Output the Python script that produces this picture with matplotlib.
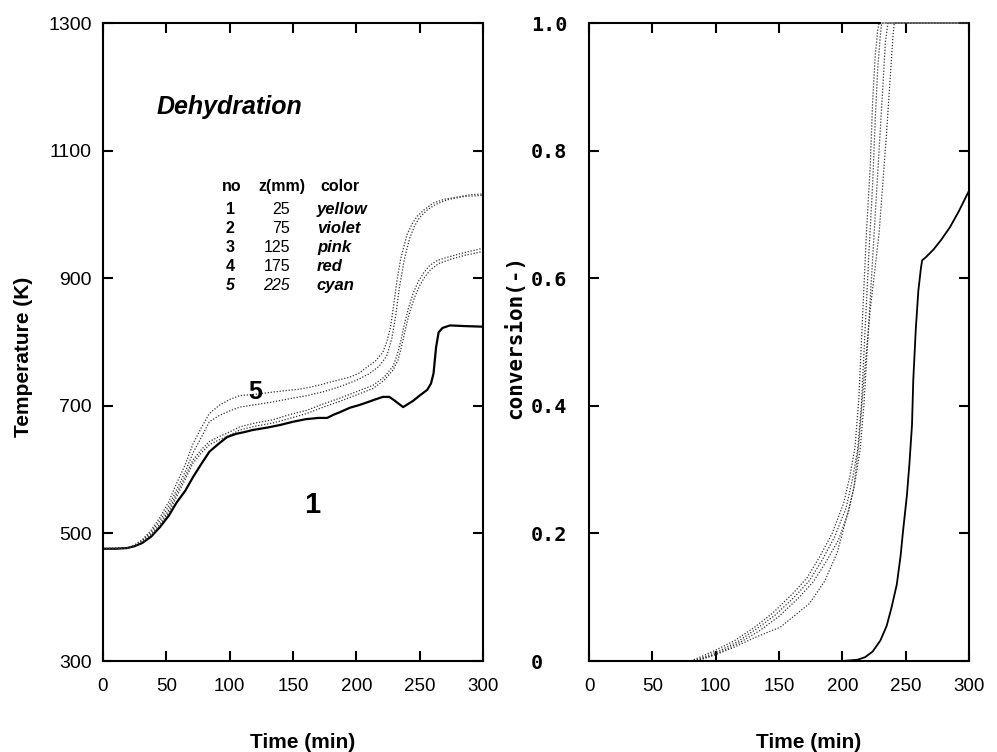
import matplotlib
matplotlib.use('Agg')
import matplotlib.pyplot as plt

plt.rcParams['font.family'] = ['Liberation Sans', 'DejaVu Sans']

# ---- temperature curves (left panel), one per thermocouple position ----
t1 = [0, 10, 19, 25, 31, 38, 45, 52, 58, 65, 71, 78, 84, 91, 98, 105, 112, 118, 130, 140,
      150, 160, 170, 177, 182, 187, 195, 202, 208, 215, 221, 226, 229, 233, 237, 241, 245,
      250, 256, 259, 261, 263, 265, 268, 274, 285, 300]
T1 = [476, 476, 477, 480, 485, 495, 510, 528, 548, 567, 588, 610, 628, 640, 651, 656, 659,
      662, 666, 670, 675, 679, 681, 681, 686, 690, 697, 701, 705, 710, 714, 714, 710, 704,
      698, 703, 708, 716, 725, 735, 751, 792, 815, 822, 826, 825, 824]

t2 = [0, 19, 25, 31, 38, 45, 52, 58, 65, 71, 78, 84, 92, 100, 108, 120, 134, 147, 161, 174,
      187, 200, 213, 222, 229, 233, 236, 239, 242, 246, 250, 254, 259, 265, 275, 286, 300]
T2 = [476, 477, 480, 486, 497, 512, 533, 557, 585, 610, 627, 639, 647, 654, 662, 668, 673,
      680, 688, 698, 707, 717, 727, 740, 756, 772, 795, 822, 846, 870, 888, 902, 914, 923,
      930, 936, 942]

t3 = [0, 19, 25, 31, 38, 45, 52, 58, 65, 71, 78, 84, 92, 100, 108, 120, 134, 147, 161, 174,
      187, 200, 213, 222, 229, 232, 235, 238, 241, 245, 249, 253, 258, 264, 274, 285, 300]
T3 = [476, 477, 481, 487, 499, 515, 537, 562, 590, 615, 632, 644, 652, 659, 667, 673, 678,
      686, 693, 703, 712, 722, 732, 745, 762, 778, 800, 828, 852, 877, 895, 908, 920, 928,
      934, 940, 947]

t4 = [0, 19, 25, 31, 38, 45, 52, 58, 65, 71, 78, 84, 92, 100, 108, 121, 134, 147, 161, 174,
      187, 200, 210, 218, 224, 228, 231, 234, 238, 242, 246, 250, 256, 263, 272, 285, 300]
T4 = [476, 477, 481, 489, 502, 520, 543, 568, 597, 626, 652, 675, 685, 692, 698, 702, 706,
      711, 716, 722, 730, 740, 750, 762, 778, 805, 840, 885, 930, 962, 982, 995, 1007, 1016,
      1023, 1028, 1030]

t5 = [0, 19, 25, 31, 38, 45, 52, 58, 65, 71, 78, 84, 92, 100, 108, 120, 132, 145, 155, 163,
      172, 179, 187, 195, 202, 208, 215, 221, 224, 227, 229, 232, 235, 240, 244, 248, 254,
      261, 270, 282, 290, 300]
T5 = [476, 477, 482, 490, 505, 525, 550, 578, 608, 640, 667, 688, 701, 710, 716, 718, 721,
      724, 726, 729, 733, 737, 741, 745, 751, 760, 770, 784, 800, 823, 850, 895, 930, 968,
      985, 997, 1008, 1018, 1024, 1028, 1031, 1032]

# ---- conversion curves (right panel) ----
tc1 = [0, 100, 200, 212, 218, 224, 230, 235, 239, 243, 246, 248, 251, 253, 255, 256, 258,
       260, 262, 263, 266, 272, 278, 285, 292, 300]
c1 = [0, 0, 0, 0.002, 0.006, 0.015, 0.032, 0.055, 0.085, 0.12, 0.165, 0.205, 0.26, 0.31,
      0.37, 0.44, 0.52, 0.58, 0.615, 0.628, 0.633, 0.645, 0.66, 0.68, 0.705, 0.737]

tca = [0, 60, 80, 90, 101, 115, 130, 145, 161, 172, 182, 192, 201, 206, 210, 213, 216, 219,
       222, 224, 226, 228, 229, 300]
ca = [0, 0, 0, 0.008, 0.018, 0.032, 0.052, 0.075, 0.106, 0.13, 0.163, 0.2, 0.247, 0.29,
      0.335, 0.41, 0.54, 0.67, 0.775, 0.88, 0.95, 0.99, 1.0, 1.0]

tcb = [0, 60, 82, 92, 103, 117, 132, 147, 163, 174, 184, 194, 203, 208, 212, 215, 218, 221,
       224, 226, 228, 230, 231, 300]
cb = [0, 0, 0, 0.007, 0.016, 0.03, 0.05, 0.072, 0.102, 0.126, 0.158, 0.195, 0.24, 0.285,
      0.33, 0.40, 0.52, 0.64, 0.75, 0.85, 0.93, 0.98, 1.0, 1.0]

tcc = [0, 60, 84, 95, 106, 120, 135, 150, 166, 177, 187, 197, 205, 210, 214, 217, 220, 223,
       226, 229, 232, 234, 236, 300]
cc = [0, 0, 0, 0.007, 0.016, 0.03, 0.048, 0.07, 0.1, 0.124, 0.155, 0.19, 0.235, 0.28, 0.33,
      0.4, 0.5, 0.6, 0.7, 0.8, 0.9, 0.97, 1.0, 1.0]

tcd = [0, 85, 100, 115, 130, 151, 174, 186, 196, 204, 209, 213, 217, 222, 229, 235, 240,
       241, 300]
cd = [0, 0, 0.01, 0.022, 0.036, 0.053, 0.09, 0.125, 0.17, 0.23, 0.27, 0.34, 0.44, 0.55,
      0.67, 0.83, 0.98, 1.0, 1.0]

table_no = ['1', '2', '3', '4', '5']
table_z = ['25', '75', '125', '175', '225']
table_color = ['yellow', 'violet', 'pink', 'red', 'cyan']

dot = dict(color='0.2', lw=0.9, linestyle=(0, (1, 1.4)))
mono = 'DejaVu Sans Mono'

fig = plt.figure(figsize=(9.97, 7.52), dpi=100)
ax1 = fig.add_axes([0.1033, 0.1210, 0.3811, 0.8484])
ax2 = fig.add_axes([0.5908, 0.1210, 0.3811, 0.8484])

# left panel
ax1.plot(t1, T1, color='black', lw=1.6)
for tt, TT in [(t2, T2), (t3, T3), (t4, T4), (t5, T5)]:
    ax1.plot(tt, TT, **dot)
ax1.set_xlim(0, 300)
ax1.set_ylim(300, 1300)
ax1.set_xticks(range(0, 301, 50))
ax1.set_yticks(range(300, 1301, 200))
ax1.tick_params(axis='y', pad=8)
ax1.set_xlabel('Time (min)', fontsize=15, fontweight='bold')
ax1.set_ylabel('Temperature (K)', fontsize=15, fontweight='bold')
ax1.xaxis.set_label_coords(0.525, -0.113)
ax1.yaxis.set_label_coords(-0.184, 0.476)

ax1.text(42.6, 1168, 'Dehydration', fontsize=18, fontweight='bold', style='italic',
         ha='left', va='center')
ax1.text(102, 1043, 'no', fontsize=11.5, fontweight='bold', ha='center', va='center')
ax1.text(122.4, 1043, 'z(mm)', fontsize=11.5, fontweight='bold', ha='left', va='center')
ax1.text(172, 1043, 'color', fontsize=11.5, fontweight='bold', ha='left', va='center')
for i, (n, z, c) in enumerate(zip(table_no, table_z, table_color)):
    y = 1008 - 29.7 * i
    st = 'italic' if n == '5' else 'normal'
    ax1.text(100.3, y, n, fontsize=11.5, fontweight='bold', style=st, ha='center', va='center')
    ax1.text(147.6, y, z, fontsize=11.5, style=st, ha='right', va='center')
    ax1.text(168.9, y, c, fontsize=12, fontweight='bold', style='italic',
             ha='left', va='center')
ax1.text(120, 722, '5', fontsize=18, fontweight='bold', ha='center', va='center')
ax1.text(165, 545, '1', fontsize=21, fontweight='bold', ha='center', va='center')

# right panel
ax2.plot(tc1, c1, color='black', lw=1.3, clip_on=False)
for tt, cv in [(tca, ca), (tcb, cb), (tcc, cc), (tcd, cd)]:
    ax2.plot(tt, cv, clip_on=False, **dot)
ax2.set_xlim(0, 300)
ax2.set_ylim(0, 1)
ax2.set_xticks(range(0, 301, 50))
ax2.set_yticks([0, 0.2, 0.4, 0.6, 0.8, 1.0])
ax2.set_yticklabels(['0', '0.2', '0.4', '0.6', '0.8', '1.0'],
                    fontfamily=mono, fontweight='bold', fontsize=14.5)
for lab in ax2.get_yticklabels():
    lab.set_horizontalalignment('left')
ax2.tick_params(axis='y', pad=42)
ax2.spines['top'].set_bounds(0, 230)
ax2.set_xlabel('Time (min)', fontsize=15, fontweight='bold')
ax2.set_ylabel('conversion(-)', fontsize=15, fontfamily=mono, fontweight='bold')
ax2.xaxis.set_label_coords(0.578, -0.113)
ax2.yaxis.set_label_coords(-0.168, 0.508)

for ax in (ax1, ax2):
    ax.tick_params(direction='in', top=True, right=True, length=7, width=1.5)
    ax.tick_params(axis='x', labelsize=13.5, pad=12)
    for s in ax.spines.values():
        s.set_linewidth(1.5)
ax1.tick_params(axis='y', labelsize=14)

fig.savefig('out.png', dpi=100)
